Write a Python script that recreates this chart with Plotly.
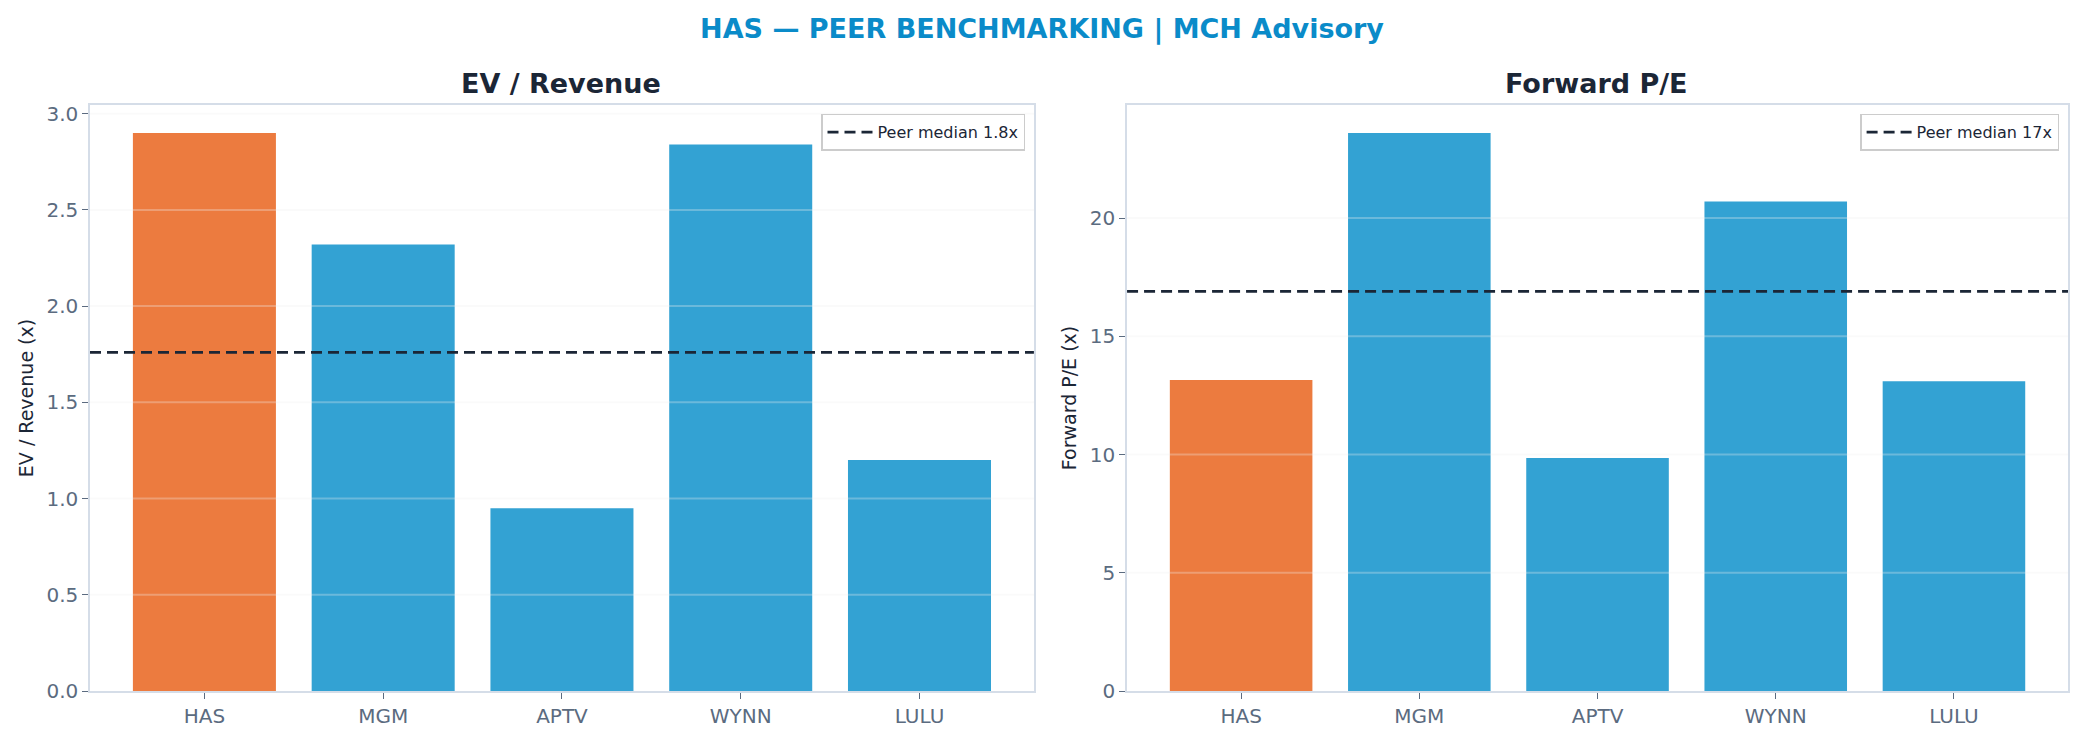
import numpy as np
import plotly.graph_objects as go
from plotly.subplots import make_subplots

tickers = ["HAS", "MGM", "APTV", "WYNN", "LULU"]
ev_revenue = [2.90, 2.32, 0.95, 2.84, 1.20]
forward_pe = [13.15, 23.6, 9.85, 20.7, 13.1]
subject = "HAS"
ev_ticks = [0.0, 0.5, 1.0, 1.5, 2.0, 2.5, 3.0]
pe_ticks = [0, 5, 10, 15, 20]

ORANGE = "#EC7B3F"
BLUE = "#33A2D3"
DARK = "#1B2636"
GREY = "#5B6B80"
SPINE = "#D5DDE8"
GRID = "rgba(238,238,240,0.30)"

colors = [ORANGE if t == subject else BLUE for t in tickers]
ev_med = float(np.median(ev_revenue[1:]))
pe_med = float(np.median(forward_pe[1:]))

fig = make_subplots(rows=1, cols=2, horizontal_spacing=0.047,
                    subplot_titles=("EV / Revenue", "Forward P/E"))

fig.add_trace(go.Bar(x=tickers, y=ev_revenue, marker=dict(color=colors, line=dict(width=0)),
                     showlegend=False), row=1, col=1)
fig.add_trace(go.Bar(x=tickers, y=forward_pe, marker=dict(color=colors, line=dict(width=0)),
                     showlegend=False), row=1, col=2)

fig.add_trace(go.Scatter(x=[-0.64, 4.64], y=[ev_med, ev_med], mode="lines",
                         line=dict(color=DARK, width=2.8, dash="11px,6px"),
                         name=f"Peer median {ev_med:.1f}x", legend="legend",
                         xaxis="x3", yaxis="y"))
fig.add_trace(go.Scatter(x=[-0.64, 4.64], y=[pe_med, pe_med], mode="lines",
                         line=dict(color=DARK, width=2.8, dash="11px,6px"),
                         name=f"Peer median {pe_med:.0f}x", legend="legend2",
                         xaxis="x4", yaxis="y2"))

d1 = [0, 0.4772]
d2 = [0.5243, 1.0]
fig.update_layout(
    xaxis3=dict(domain=d1, range=[-0.64, 4.64], overlaying="x", visible=False, anchor="y"),
    xaxis4=dict(domain=d2, range=[-0.64, 4.64], overlaying="x2", visible=False, anchor="y2"),
)

axis_common = dict(showline=True, linecolor=SPINE, linewidth=1.5, mirror=True,
                   ticks="outside", ticklen=6, tickcolor=GREY, tickwidth=1.2,
                   tickfont=dict(family="DejaVu Sans", size=20, color=GREY),
                   zeroline=False, showgrid=False, layer="above traces")

fig.update_xaxes(**axis_common, range=[-0.64, 4.64])
fig.update_xaxes(domain=d1, row=1, col=1)
fig.update_xaxes(domain=d2, row=1, col=2)
fig.update_yaxes(**axis_common)
fig.update_yaxes(range=[0, max(ev_revenue) * 1.05], tickvals=ev_ticks, tickformat=".1f",
                 title=dict(text="EV / Revenue (x)", font=dict(family="DejaVu Sans", size=19, color=DARK), standoff=8),
                 row=1, col=1)
fig.update_yaxes(range=[0, max(forward_pe) * 1.05], tickvals=pe_ticks,
                 title=dict(text="Forward P/E (x)", font=dict(family="DejaVu Sans", size=19, color=DARK), standoff=8),
                 row=1, col=2)

# grid lines drawn above bars (as in the reference)
shapes = []
for v in ev_ticks[1:]:
    shapes.append(dict(type="line", xref="x domain", yref="y", x0=0, x1=1, y0=v, y1=v,
                       line=dict(color=GRID, width=2), layer="above"))
for v in pe_ticks[1:]:
    shapes.append(dict(type="line", xref="x2 domain", yref="y2", x0=0, x1=1, y0=v, y1=v,
                       line=dict(color=GRID, width=2), layer="above"))
fig.update_layout(shapes=shapes)

for ann in fig.layout.annotations:
    ann.font = dict(family="DejaVu Sans", size=27, color=DARK)
    ann.text = f"<b>{ann.text}</b>"
    ann.yshift = 4

legend_style = dict(font=dict(family="DejaVu Sans", size=16, color=DARK),
                    bgcolor="rgba(255,255,255,0.9)", bordercolor="#CCCCCC", borderwidth=1.5,
                    xanchor="right", yanchor="top", y=0.985, itemwidth=45)
fig.update_layout(
    legend=dict(**legend_style, x=0.4727),
    legend2=dict(**legend_style, x=0.9955),
    title=dict(text="<b>HAS — PEER BENCHMARKING | MCH Advisory</b>", x=0.5, xanchor="center",
               y=0.962, yanchor="middle",
               font=dict(family="DejaVu Sans", size=27, color="#0A8BC9")),
    width=2084, height=741,
    margin=dict(l=90, r=16, t=105, b=50),
    plot_bgcolor="white", paper_bgcolor="white",
    bargap=0.2,
)

fig.write_html("out.html")
